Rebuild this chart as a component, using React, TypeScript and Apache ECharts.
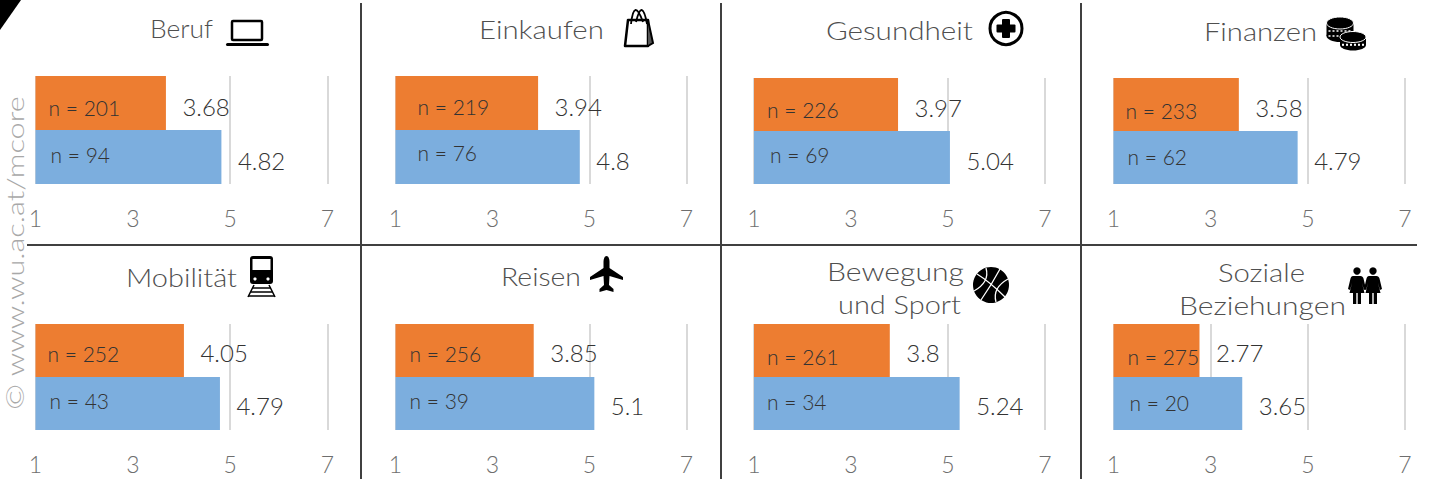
import React, { useEffect, useRef } from "react";
import * as echarts from "echarts";

const groups = ["Gruppe 1", "Gruppe 2"];
const axisTicks = [1, 3, 5, 7];
const panelNames = ["Beruf", "Einkaufen", "Gesundheit", "Finanzen", "Mobilität", "Reisen", "Bewegung und Sport", "Soziale Beziehungen"];
const orangeValues = [3.68, 3.94, 3.97, 3.58, 4.05, 3.85, 3.8, 2.77];
const blueValues = [4.82, 4.8, 5.04, 4.79, 4.79, 5.1, 5.24, 3.65];
const orangeN = [201, 219, 226, 233, 252, 256, 261, 275];
const blueN = [94, 76, 69, 62, 43, 39, 34, 20];

const ORANGE = "#ED7D31";
const BLUE = "#7CAEDE";
const FONT = "Lato";
const WEIGHT = 300;
const W = 1431, H = 479;

const panelLeft = [35.5, 395.5, 754, 1113.5, 35.5, 395.5, 754, 1113.5];
const panelWidth = [292, 291, 291, 291.5, 292, 291, 291, 291.5];
const panelTop = [76, 76, 78, 78, 324, 324, 324, 324];
const panelBottom = [184, 184, 184, 184, 430, 430, 430, 430];
const nOffsets = [
  [13, 4, 15, -3], [22, 3, 22, -5], [13, 5, 16, -3], [12, 6, 14, -1],
  [12, 3, 14, -3], [14, 3, 14, -3], [13, 6, 13, -2], [14, 6, 16, -1],
];
const valueDy = [3, 3, 3, 3, 2, 2, 2, 2];

// text, left, centre y, target width
const titleLines: [string, number, number, number][] = [
  ["Beruf", 150, 28, 63], ["Einkaufen", 479, 29, 125], ["Gesundheit", 826, 30, 147], ["Finanzen", 1204, 31, 113],
  ["Mobilität", 126, 277, 111], ["Reisen", 501, 277, 80],
  ["Bewegung", 827, 272, 137], ["und Sport", 838, 304, 123],
  ["Soziale", 1218, 272, 87], ["Beziehungen", 1179, 306, 167],
];

echarts.graphic.registerShape("plane", echarts.graphic.extendPath(
  "M16.5 0C18.5 0 19.5 3 19.5 6L19.5 12L33 21L33 24L19.5 20L19 29L23.5 33L23.5 36L16.5 34L9.5 36L9.5 33L14 29L13.5 20L0 24L0 21L13.5 12L13.5 6C13.5 3 14.5 0 16.5 0Z", {}) as any);
echarts.graphic.registerShape("woman", echarts.graphic.extendPath(
  "M5 7L12.5 7C14 7 15 8 15.5 9.5L18 20L16 21L14 14L16.5 24L13 24L13 35L9.7 35L9.7 24L8.3 24L8.3 35L5 35L5 24L1.5 24L4 14L2 21L0 20L2.5 9.5C3 8 3.5 7 5 7Z", {}) as any);

function textWidth(text: string, size: number) {
  const ctx = document.createElement("canvas").getContext("2d")!;
  ctx.font = `${WEIGHT} ${size}px ${FONT}`;
  return ctx.measureText(text).width;
}

function titleGraphics(): any[] {
  const size = 25;
  return titleLines.map(([text, x, y, w]) => ({
    type: "text", x, y, scaleX: w / textWidth(text, size), z: 5,
    style: { text, font: `${WEIGHT} ${size}px ${FONT}`, fill: "#4f4f4f", verticalAlign: "middle", align: "left" },
  }));
}

const black = { fill: "#000" };
const line = (x1: number, y1: number, x2: number, y2: number, stroke = "#000", lineWidth = 1.5) =>
  ({ type: "line", shape: { x1, y1, x2, y2 }, style: { stroke, lineWidth, fill: "none" }, z: 6 });
const curve = (x1: number, y1: number, cpx1: number, cpy1: number, x2: number, y2: number, stroke: string, lineWidth: number) =>
  ({ type: "bezierCurve", shape: { x1, y1, cpx1, cpy1, x2, y2 }, style: { stroke, lineWidth, fill: "none" }, z: 6 });

function coin(cx: number, cy: number, rx: number, ry: number, bottom: number): any[] {
  return [
    { type: "ellipse", shape: { cx, cy: bottom, rx, ry }, style: black, z: 6 },
    { type: "rect", shape: { x: cx - rx, y: cy, width: rx * 2, height: bottom - cy }, style: black, z: 6 },
    { type: "ellipse", shape: { cx, cy, rx, ry }, style: { fill: "#000", stroke: "#fff", lineWidth: 1 }, z: 6 },
    { ...line(cx - rx + 2, cy + ry + 2, cx + rx - 2, cy + ry + 2, "#fff", 1.5), style: { stroke: "#fff", lineWidth: 1.5, lineDash: [2, 2] } },
    { ...line(cx - rx + 2, bottom, cx + rx - 2, bottom, "#fff", 1.5), style: { stroke: "#fff", lineWidth: 1.5, lineDash: [2, 2] } },
  ];
}

function icons(): any[] {
  return [
    // laptop
    { type: "rect", shape: { x: 232, y: 21, width: 30, height: 19, r: 1 }, style: { fill: "none", stroke: "#000", lineWidth: 2.5 }, z: 6 },
    { type: "rect", shape: { x: 226, y: 43, width: 43, height: 3, r: 1.5 }, style: black, z: 6 },
    // bag
    { type: "polygon", shape: { points: [[628, 20], [648, 20], [648, 46], [625, 46]] }, style: { fill: "#fff", stroke: "#000", lineWidth: 2.5, lineJoin: "round" }, z: 6 },
    { type: "polyline", shape: { points: [[648, 20], [653, 43], [648, 46]] }, style: { fill: "#555", stroke: "#000", lineWidth: 2 }, z: 6 },
    curve(631, 24, 634, -3, 643, 22, "#000", 1.8),
    curve(636, 22, 642, -3, 647, 24, "#000", 1.8),
    // health
    { type: "circle", shape: { cx: 1006, cy: 28.5, r: 16 }, style: { fill: "#fff", stroke: "#000", lineWidth: 3 }, z: 6 },
    { type: "rect", shape: { x: 1002, y: 19, width: 8, height: 19, r: 1 }, style: black, z: 6 },
    { type: "rect", shape: { x: 996.5, y: 24.5, width: 19, height: 8, r: 1 }, style: black, z: 6 },
    // coins
    ...coin(1340, 23, 13.5, 6, 36),
    ...coin(1353, 37, 13, 5.5, 45),
    // train
    { type: "rect", shape: { x: 250, y: 256, width: 23, height: 28, r: 3 }, style: black, z: 6 },
    { type: "rect", shape: { x: 252.5, y: 259, width: 18, height: 11 }, style: { fill: "#fff" }, z: 6 },
    { type: "circle", shape: { cx: 255, cy: 279, r: 1.6 }, style: { fill: "#fff" }, z: 6 },
    { type: "circle", shape: { cx: 268, cy: 279, r: 1.6 }, style: { fill: "#fff" }, z: 6 },
    line(254, 285, 248, 297), line(269, 285, 275, 297),
    line(252, 288, 271, 288), line(251, 292, 272, 292), line(249, 296, 274, 296),
    // plane
    { type: "plane", x: 590, y: 256, style: black, z: 6 },
    // basketball
    { type: "circle", shape: { cx: 991, cy: 285, r: 18 }, style: black, z: 6 },
    curve(977, 274, 990, 282, 1005, 297, "#fff", 1.3),
    curve(1000, 269, 992, 284, 981, 300, "#fff", 1.3),
    curve(986, 268, 990, 282, 974, 291, "#fff", 1.3),
    curve(1008, 279, 992, 288, 996, 302, "#fff", 1.3),
    // persons
    { type: "circle", shape: { cx: 1357, cy: 271, r: 3.7 }, style: black, z: 6 },
    { type: "circle", shape: { cx: 1373, cy: 271, r: 3.7 }, style: black, z: 6 },
    { type: "woman", x: 1348, y: 269, style: black, z: 6 },
    { type: "woman", x: 1364, y: 269, style: black, z: 6 },
  ];
}

function buildOption(): any {
  const grid: any[] = [], xAxis: any[] = [], yAxis: any[] = [], series: any[] = [];
  panelNames.forEach((name, i) => {
    grid.push({ left: panelLeft[i], width: panelWidth[i], top: panelTop[i], height: panelBottom[i] - panelTop[i] });
    xAxis.push({
      type: "value", gridIndex: i, min: 1, max: 7,
      axisLine: { show: false },
      axisTick: { show: false, customValues: axisTicks },
      axisLabel: { customValues: axisTicks, margin: 22, color: "#6e6e6e", fontFamily: FONT, fontWeight: WEIGHT, fontSize: 23, hideOverlap: false },
      splitLine: { show: true, lineStyle: { color: "#d9d9d9", width: 2 } },
    });
    yAxis.push({ type: "category", gridIndex: i, inverse: true, data: groups, show: false });
    const vals = [
      { value: orangeValues[i], itemStyle: { color: ORANGE }, label: { offset: [0, valueDy[i]] } },
      { value: blueValues[i], itemStyle: { color: BLUE }, label: { offset: [0, valueDy[i]] } },
    ];
    series.push({
      type: "bar", name, xAxisIndex: i, yAxisIndex: i, data: vals, barWidth: "100%", barGap: "-100%", z: 2,
      label: { show: true, position: "right", distance: 16.5, color: "#333", fontFamily: FONT, fontWeight: WEIGHT, fontSize: 24 },
    });
    const [ox, oy, bx, by] = nOffsets[i];
    series.push({
      type: "bar", name: name + " n", xAxisIndex: i, yAxisIndex: i, barWidth: "100%", barGap: "-100%", z: 3,
      itemStyle: { color: "transparent" },
      label: {
        show: true, position: "insideLeft", distance: 0, color: "#333", fontFamily: FONT, fontWeight: WEIGHT, fontSize: 21,
        formatter: (p: any) => `n = ${p.dataIndex === 0 ? orangeN[i] : blueN[i]}`,
      },
      data: [
        { value: orangeValues[i], label: { offset: [ox, oy] } },
        { value: blueValues[i], label: { offset: [bx, by] } },
      ],
    });
  });

  const sep = { stroke: "#404040", lineWidth: 2 };
  const graphic: any[] = [
    ...[361, 721, 1081].map((x) => ({ type: "line", shape: { x1: x, y1: 3, x2: x, y2: 479 }, style: sep, z: 4 })),
    { type: "line", shape: { x1: 27, y1: 245, x2: 1417, y2: 245 }, style: sep, z: 4 },
    { type: "polygon", shape: { points: [[0, 0], [21, 0], [0, 30]] }, style: black, z: 6 },
    {
      type: "text", x: 15, y: 253, rotation: Math.PI / 2, z: 1,
      scaleX: 314 / textWidth("© www.wu.ac.at/mcore", 23),
      style: { text: "© www.wu.ac.at/mcore", font: `${WEIGHT} 23px ${FONT}`, fill: "#a8a8a8", align: "center", verticalAlign: "middle" },
    },
    ...titleGraphics(),
    ...icons(),
  ];
  return { animation: false, backgroundColor: "#fff", grid, xAxis, yAxis, series, graphic };
}

export default function App() {
  const ref = useRef<HTMLDivElement>(null);
  useEffect(() => {
    document.body.style.margin = "0";
    const chart = echarts.init(ref.current!, undefined, { renderer: "svg" });
    chart.setOption(buildOption());
    return () => chart.dispose();
  }, []);
  return <div ref={ref} style={{ width: W, height: H }} />;
}
